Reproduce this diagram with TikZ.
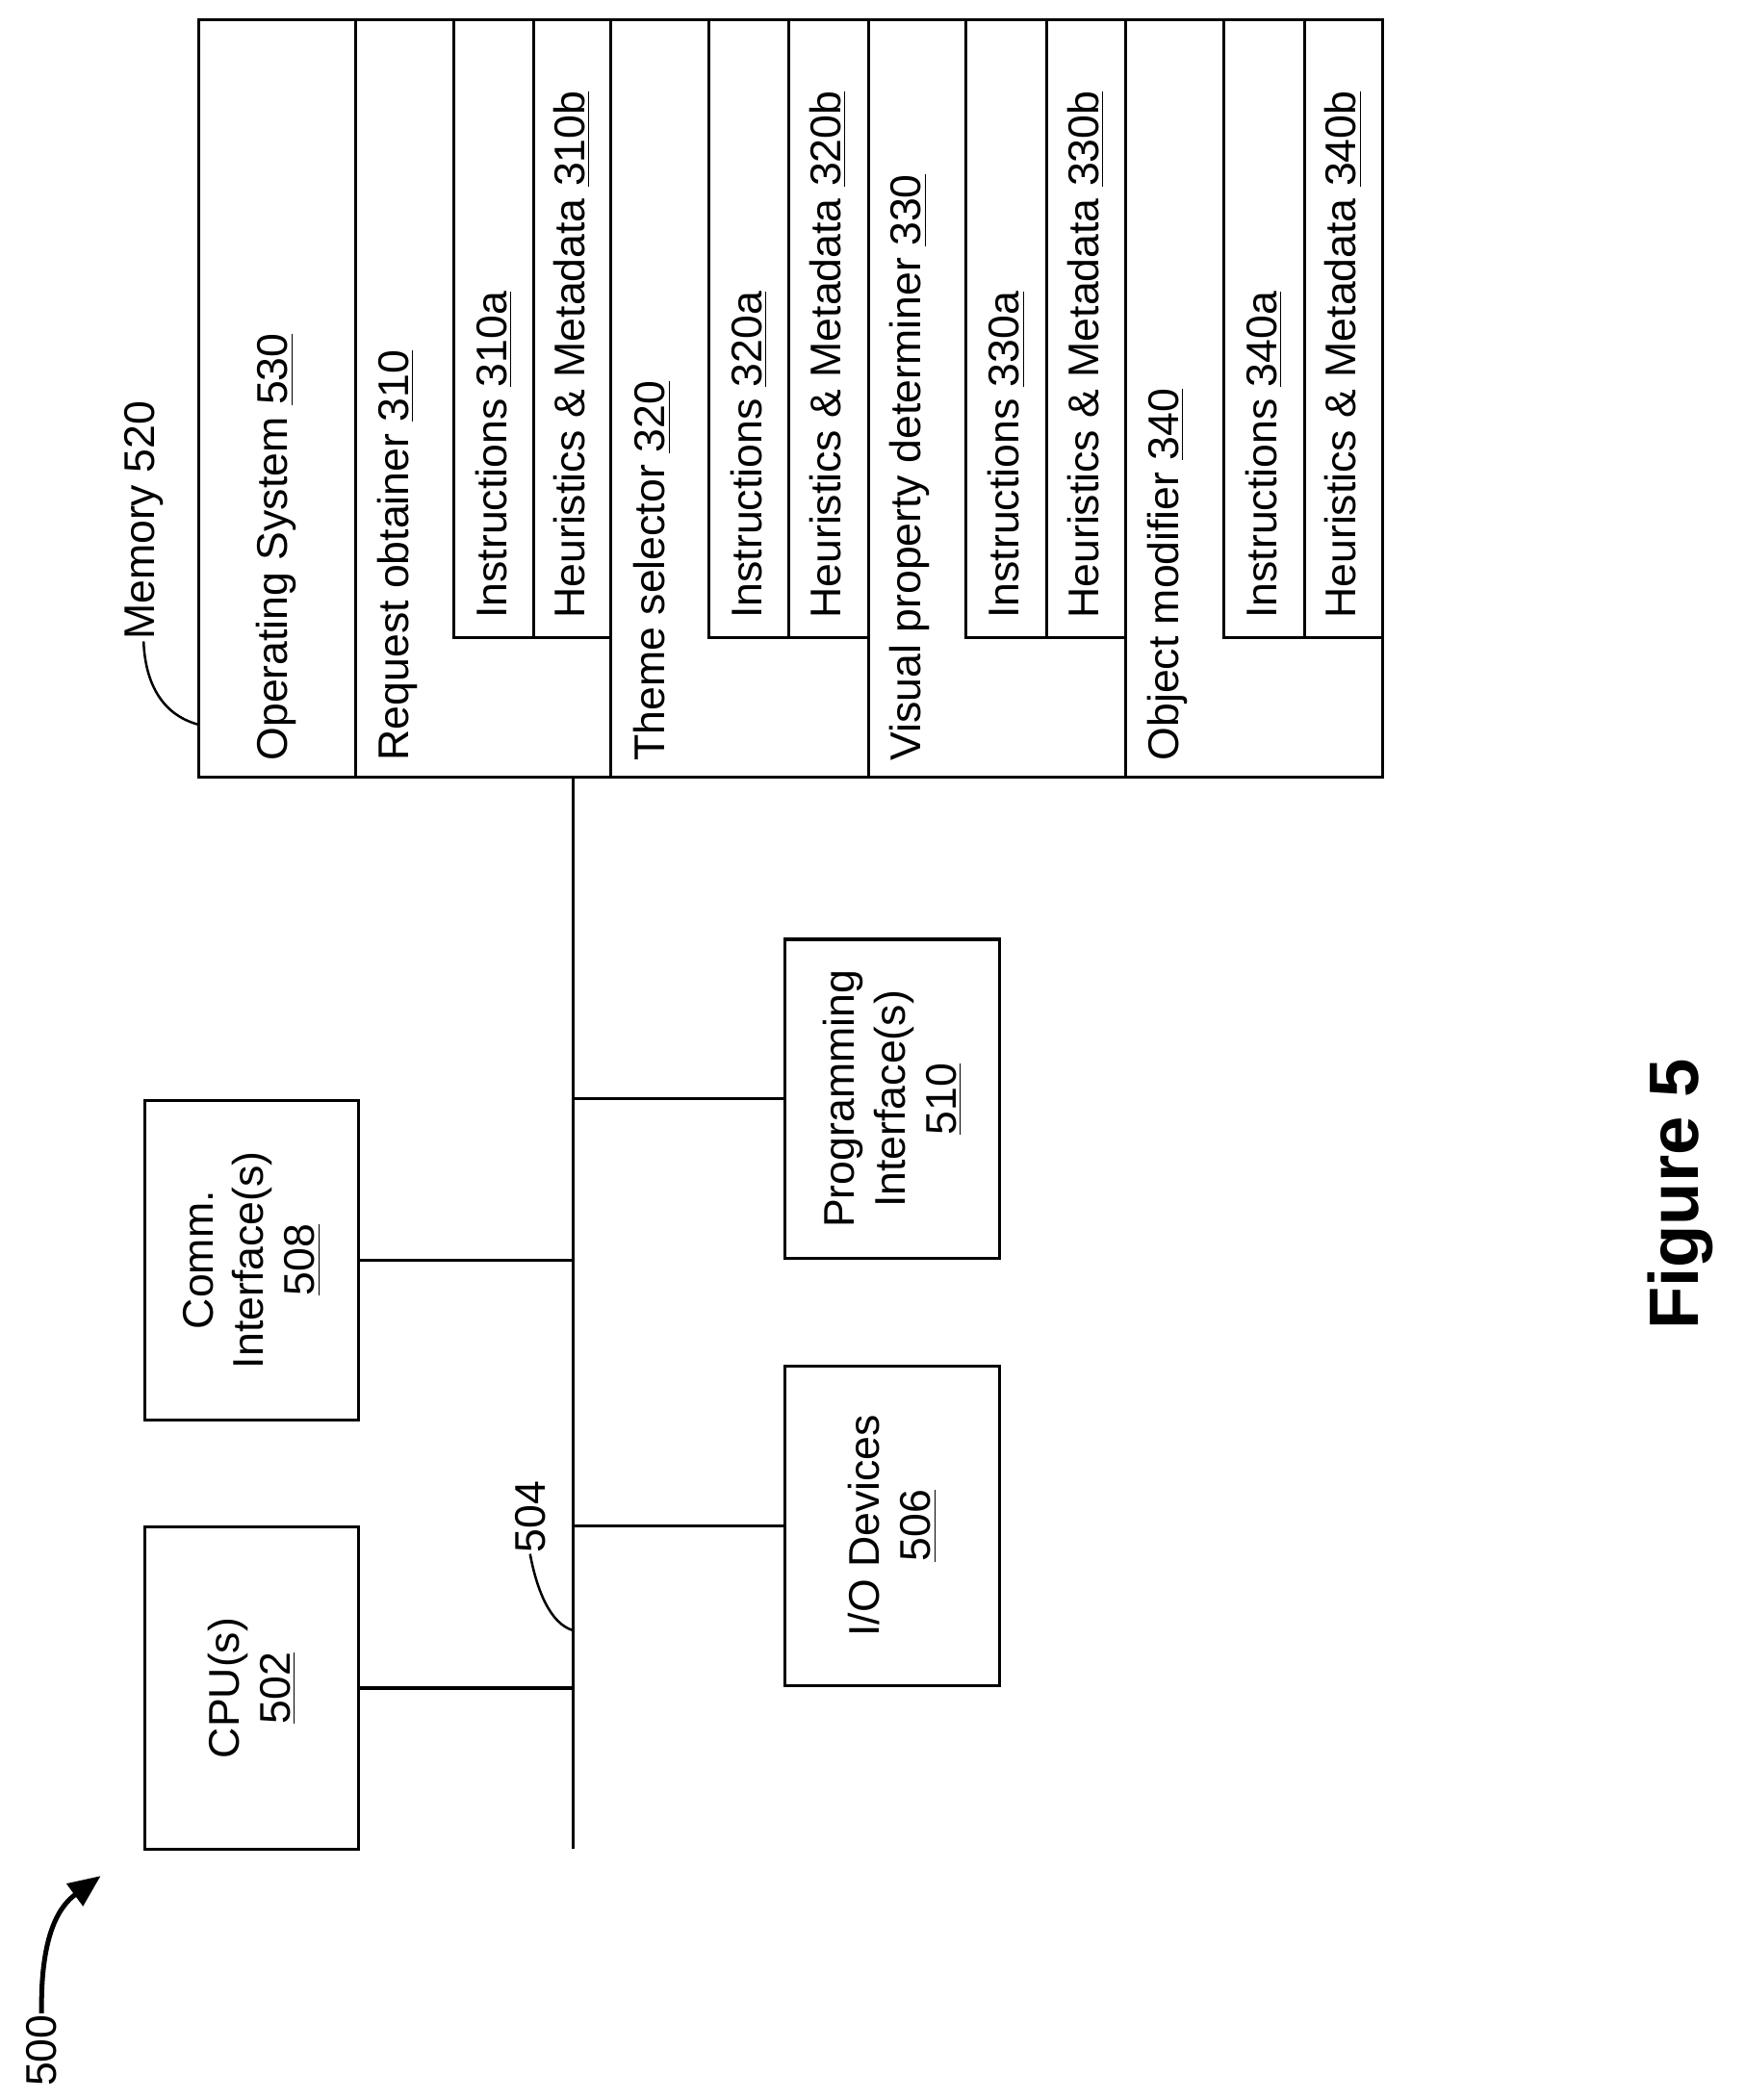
\documentclass[tikz,border=0pt]{standalone}
\usepackage{fontspec}
\setmainfont{Liberation Sans}
\usetikzlibrary{arrows.meta}
\begin{document}
\begin{tikzpicture}[x=0.5pt,y=-0.5pt,line width=1.1pt,
 lbl/.style={rotate=90,anchor=west,inner sep=0pt,font=\fontsize{16}{19}\selectfont},
 box/.style={draw,rotate=90,align=center,inner sep=2pt,font=\fontsize{16}{19}\selectfont}]
\useasboundingbox (0,0) rectangle (1300,1565);
% memory block
\draw (148,15) rectangle (1030,579);
\foreach \x in {265,455,647,839} \draw (\x,15) -- (\x,579);
\foreach \a/\b/\c in {338/398/455,528/588/647,720/780/839,912/972/1030}{
  \draw (\a,15) -- (\a,475) -- (\c,475);
  \draw (\b,15) -- (\b,475);
}
\node[lbl] (os) at (206,568) {Operating System \underline{530}};
\node[lbl] (r) at (296,568) {Request obtainer \underline{310}};
\node[lbl] at (368,462) {Instructions \underline{310a}};
\node[lbl] at (426,462) {Heuristics \& Metadata \underline{310b}};
\node[lbl] (t) at (486,568) {Theme selector \underline{320}};
\node[lbl] at (558,462) {Instructions \underline{320a}};
\node[lbl] at (617,462) {Heuristics \& Metadata \underline{320b}};
\node[lbl] (v) at (678,568) {Visual property determiner \underline{330}};
\node[lbl] at (750,462) {Instructions \underline{330a}};
\node[lbl] at (809,462) {Heuristics \& Metadata \underline{330b}};
\node[lbl] (o) at (870,568) {Object modifier \underline{340}};
\node[lbl] at (942,462) {Instructions \underline{340a}};
\node[lbl] at (1001,462) {Heuristics \& Metadata \underline{340b}};
\node[lbl] (memlbl) at (107,478) {Memory 520};
\draw[line width=0.9pt] (148,540) .. controls (118,532) and (108,505) .. (memlbl.west);
% boxes
\node[box,minimum width=120pt,minimum height=79.5pt] (cpu) at (187.5,1258) {CPU(s)\\\underline{502}};
\node[box,minimum width=119pt,minimum height=79.5pt] (comm) at (187.5,939) {Comm.\\Interface(s)\\\underline{508}};
\node[box,minimum width=119pt,minimum height=80pt] (io) at (665,1137) {I/O Devices\\\underline{506}};
\node[box,minimum width=119pt,minimum height=80pt] (prog) at (665,819) {Programming\\Interface(s)\\\underline{510}};
% bus
\coordinate (btop) at (427,579);
\coordinate (bbot) at (427,1378);
\draw (btop) -- (bbot);
\draw (cpu.south) -- (cpu.south -| btop);
\draw (comm.south) -- (comm.south -| btop);
\draw (io.north) -- (io.north -| btop);
\draw (prog.north) -- (prog.north -| btop);
\node[lbl] (l504) at (395,1158) {504};
\coordinate (b504) at (427,1215);
\draw[line width=0.9pt] (l504.west) .. controls (400,1185) and (410,1210) .. (b504);
% 500
\node[lbl] (l500) at (31,1556) {500};
\draw[line width=1.8pt,-{Triangle[length=12pt,width=10pt]}] (l500.east) .. controls (30,1440) and (45,1420) .. (75,1398);
\node[rotate=90,font=\fontsize{26}{30}\selectfont\bfseries] (fig) at (1252,890) {Figure 5};
\end{tikzpicture}
\end{document}
